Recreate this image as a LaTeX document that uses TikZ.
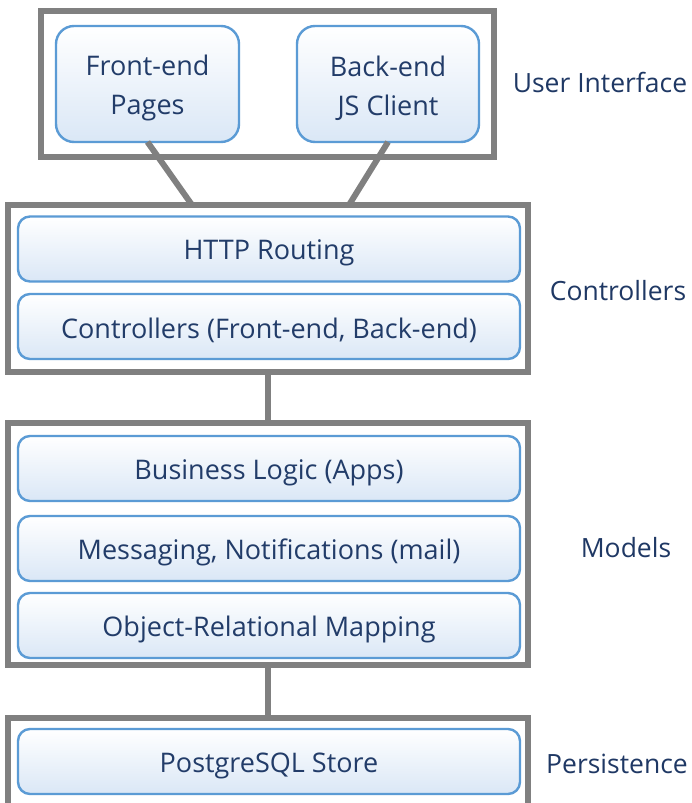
\documentclass[tikz,border=0pt]{standalone}
\usepackage{fontspec}
\setmainfont{Open Sans}
\definecolor{frame}{HTML}{808080}
\definecolor{edge}{HTML}{5B9BD5}
\definecolor{shade}{HTML}{DAE7F6}
\definecolor{txt}{HTML}{223C69}
\definecolor{lbl}{HTML}{1F3864}
\tikzset{
  layer/.style={draw=frame, line width=6pt, fill=white, inner sep=0pt, outer sep=0pt},
  part/.style={draw=edge, line width=2.4pt, rounded corners=18pt, inner sep=0pt, outer sep=0pt,
    top color=white, middle color=white, bottom color=shade},
  bar/.style={part, rounded corners=12pt, minimum width=502pt, minimum height=65pt},
  words/.style={text=txt, font=\fontsize{27}{39}\selectfont, align=center, inner sep=0pt, yshift=-4pt},
  wire/.style={draw=frame, line width=6pt},
  tag/.style={text=lbl, font=\fontsize{26.5}{30}\selectfont, inner sep=0pt}
}
\begin{document}
\begin{tikzpicture}[x=1pt, y=-1pt]
\useasboundingbox (0,0) rectangle (692,803);
% frames
\node[layer, minimum width=453pt, minimum height=146pt] (ui) at (267.5,84) {};
\node[layer, minimum width=520pt, minimum height=167pt] (ctl) at (268,288.5) {};
\node[layer, minimum width=520pt, minimum height=242pt] (mdl) at (268,544) {};
\node[layer, minimum width=520pt, minimum height=100pt] (per) at (268,768) {};
% inner boxes
\node[part, minimum width=183pt, minimum height=116pt] (fe) at (147.5,84) {};
\node[part, minimum width=182pt, minimum height=116pt] (be) at (388,84) {};
\node[bar] (http) at (269,249) {};
\node[bar] (ctrl) at (269,326.5) {};
\node[bar] (biz) at (269,468.5) {};
\node[bar] (msg) at (269,548.5) {};
\node[bar] (orm) at (269,625.5) {};
\node[bar] (pg) at (269,761.5) {};
% texts
\node[words] (fet) at (fe) {Front-end\\Pages};
\node[words] (bet) at (be) {Back-end\\JS Client};
\node[words] (httpt) at (http) {HTTP Routing};
\node[words] (ctrlt) at (ctrl) {Controllers (Front-end, Back-end)};
\node[words] (bizt) at (biz) {Business Logic (Apps)};
\node[words] (msgt) at (msg) {Messaging, Notifications (mail)};
\node[words] (ormt) at (orm) {Object-Relational Mapping};
\node[words] (pgt) at (pg) {PostgreSQL Store};
% connectors
\draw[wire] (fe.south) -- ([xshift=-76pt]ctl.north);
\draw[wire] (be.south) -- ([xshift=81pt]ctl.north);
\draw[wire] (ctl.south) -- (mdl.north);
\draw[wire] (mdl.south) -- (per.north);
% labels
\node[tag] (lui) at (600,82) {User Interface};
\node[tag] (lctl) at (618,291) {Controllers};
\node[tag] (lmdl) at (626,548) {Models};
\node[tag] (lper) at (617,764) {Persistence};
\end{tikzpicture}
\end{document}
